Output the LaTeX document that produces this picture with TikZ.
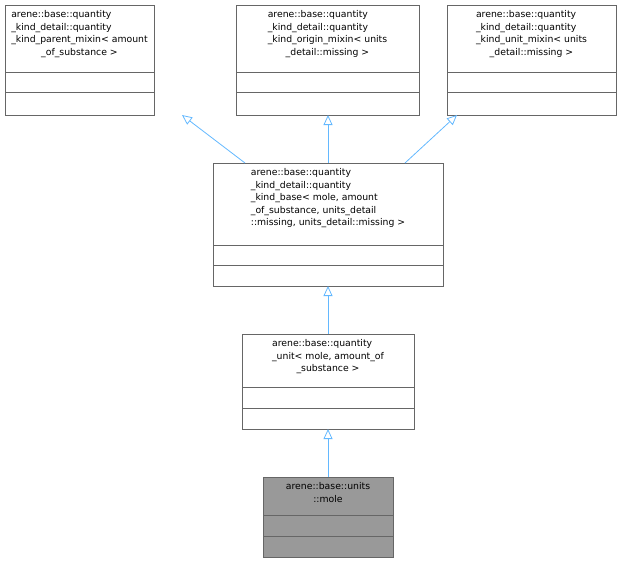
\documentclass[tikz,border=0pt]{standalone}
\usepackage{fontspec}
\setmainfont{DejaVu Sans}
\usetikzlibrary{arrows.meta}
\definecolor{edge}{RGB}{99,184,255}
\newcommand{\umlbox}[8]{%
  \node[box,fill=#8,minimum width={#4-#2},minimum height={#5-#3}] (#1) at ({(#2+#4)/2},{(#3+#5)/2}) {};
  \draw[line] (#2,#6) -- (#4,#6);
  \draw[line] (#2,#7) -- (#4,#7);}
\begin{document}
\begin{tikzpicture}[x=1pt,y=-1pt,
  box/.style={draw=black!60,line width=0.8pt,inner sep=0,outer sep=0},
  line/.style={draw=black!60,line width=0.8pt},
  lbl/.style={font=\fontsize{9.3}{12.5}\selectfont,inner sep=0,anchor=north,align=center},
  inh/.style={draw=edge,line width=0.8pt,-{Triangle[open,length=10pt,width=9pt]}}]
\useasboundingbox (0,0) rectangle (623,563);
\umlbox{a}{5}{5}{154}{115}{72}{92}{white}
\umlbox{b}{236}{5}{419}{115}{72}{92}{white}
\umlbox{c}{447}{5}{616}{115}{72}{92}{white}
\umlbox{m}{213}{163}{443}{286}{245}{265}{white}
\umlbox{u}{242}{334}{414}{429}{387}{408}{white}
\umlbox{w}{263}{477}{393}{557}{515}{536}{black!40}
\node[lbl] (ta) at (79.5,9) {\begin{tabular}{@{}l@{}}arene::base::quantity\\\_kind\_detail::quantity\\\_kind\_parent\_mixin< amount\\\multicolumn{1}{@{}c@{}}{\_of\_substance >}\end{tabular}};
\node[lbl] (tb) at (327.5,9) {\begin{tabular}{@{}l@{}}arene::base::quantity\\\_kind\_detail::quantity\\\_kind\_origin\_mixin< units\\\multicolumn{1}{@{}c@{}}{\_detail::missing >}\end{tabular}};
\node[lbl] (tc) at (531.5,9) {\begin{tabular}{@{}l@{}}arene::base::quantity\\\_kind\_detail::quantity\\\_kind\_unit\_mixin< units\\\multicolumn{1}{@{}c@{}}{\_detail::missing >}\end{tabular}};
\node[lbl] (tm) at (328,167) {\begin{tabular}{@{}l@{}}arene::base::quantity\\\_kind\_detail::quantity\\\_kind\_base< mole, amount\\\_of\_substance, units\_detail\\::missing, units\_detail::missing >\end{tabular}};
\node[lbl] (tu) at (328,338) {\begin{tabular}{@{}l@{}}arene::base::quantity\\\_unit< mole, amount\_of\\\multicolumn{1}{@{}c@{}}{\_substance >}\end{tabular}};
\node[lbl] (tw) at (328,481) {\begin{tabular}{@{}c@{}}arene::base::units\\::mole\end{tabular}};
\draw[inh] (m.north west) ++(32,0) coordinate (s1) -- (s1) -- ++(-63,-48);
\draw[inh] (m.north) -- (m.north |- b.south);
\draw[inh] (m.north east) ++(-38,0) coordinate (s3) -- ++(52,-48);
\draw[inh] (u.north) -- (m.south);
\draw[inh] (w.north) -- (u.south);
\end{tikzpicture}
\end{document}
